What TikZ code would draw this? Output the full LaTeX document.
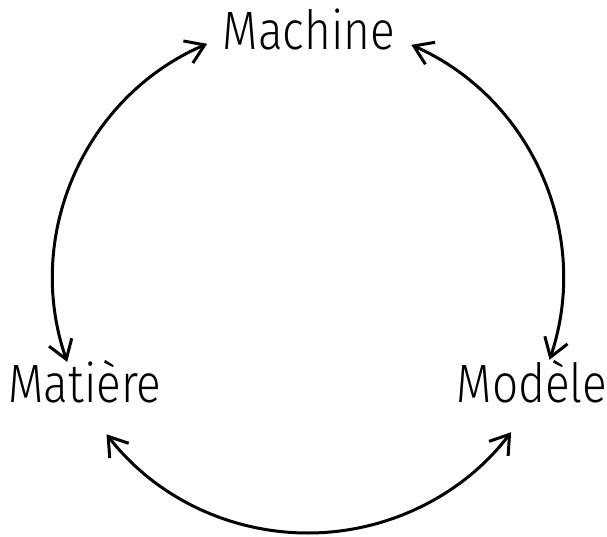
\documentclass[tikz,border=0pt]{standalone}
\usepackage{fontspec}
\setmainfont{Fira Sans}[UprightFont={* Light}, FakeStretch=0.85]
\usetikzlibrary{arrows.meta}
\begin{document}
\begin{tikzpicture}[x=1pt,y=1pt,
  lbl/.style={anchor=base, inner sep=0pt, font=\fontsize{54}{60}\selectfont},
  link/.style={line width=3pt, {Straight Barb[length=18pt,width=24pt,line width=3pt]}-{Straight Barb[length=18pt,width=24pt,line width=3pt]}}]
\useasboundingbox (0,0) rectangle (607,-537);
\node[lbl] (mach) at (309,-50) {Machine};
\node[lbl] (mat) at (85,-402) {Matière};
\node[lbl] (mod) at (532,-402) {Modèle};
\coordinate (O) at (308,-278);
\def\R{255}
\draw[link] ([shift={(113.3:\R)}]O) arc[start angle=113.3, end angle=199.2, radius=\R];
\draw[link] ([shift={(66.1:\R)}]O) arc[start angle=66.1, end angle=-18.7, radius=\R];
\draw[link] ([shift={(217.8:\R)}]O) arc[start angle=217.8, end angle=322.8, radius=\R];
\end{tikzpicture}
\end{document}
